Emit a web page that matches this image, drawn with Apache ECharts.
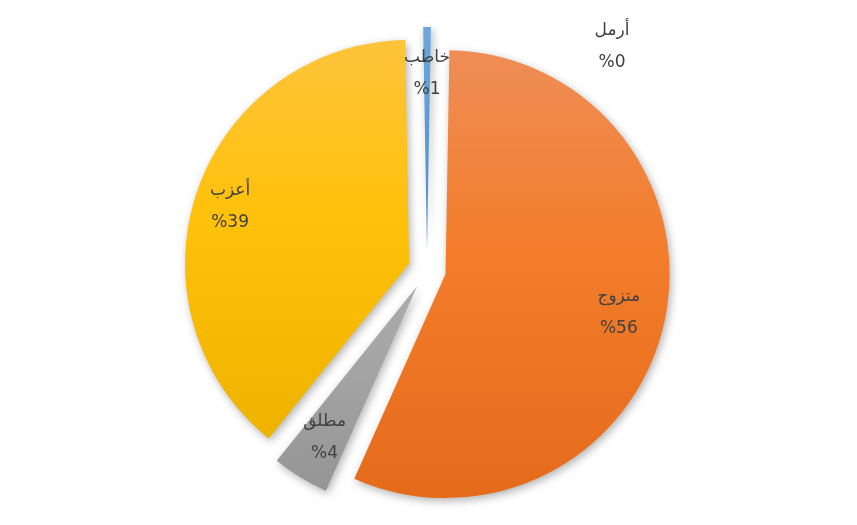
<!DOCTYPE html>
<html>
<head>
<meta charset="utf-8">
<title>pie</title>
<script src="https://cdn.jsdelivr.net/npm/echarts@6/dist/echarts.min.js"></script>
<style>
  html, body { margin: 0; padding: 0; background: #fff; }
  #main { width: 857px; height: 525px; }
</style>
</head>
<body>
<div id="main"></div>
<script>
// data (shares in %)
const names = ['متزوج', 'مطلق', 'أعزب', 'خاطب', 'أرمل'];
const values = [56.4, 4.1, 38.95, 0.55, 0];
// colour stops of each slice, top -> bottom
const colors = [
  ['#EF8D55', '#F37D2B', '#E56B1B'],
  ['#ABABAB', '#A3A3A3', '#959595'],
  ['#FEC43A', '#FFC10A', '#EEB300'],
  ['#6CA8DE', '#5B9BD5', '#4E8ECB'],
  ['#7F7F7F', '#7F7F7F', '#7F7F7F']
];

const labelFont = {
  fontFamily: 'DejaVu Sans',
  fontSize: 17,
  fontWeight: 'normal',
  lineHeight: 32,
  color: '#404040'
};

function grad(c) {
  return new echarts.graphic.LinearGradient(0, 0, 0, 1, [
    { offset: 0, color: c[0] },
    { offset: 0.45, color: c[1] },
    { offset: 1, color: c[2] }
  ]);
}

const pieData = names.map((n, i) => ({
  name: n, value: values[i], selected: true,
  itemStyle: { color: grad(colors[i]) }
}));
// second, invisible ring only carries the labels (puts them nearer the rim)
const labelData = names.map((n, i) => ({ name: n, value: values[i], selected: true }));
labelData[2].label = { padding: [0, 22, 0, 0] };
// the 0% slice has no room: its label goes in the title box, up right
labelData[4].label = { show: false };

const option = {
  animation: false,
  title: {
    text: names[4] + '\n%' + values[4],
    left: 607,
    top: 10,
    textAlign: 'center',
    textStyle: labelFont
  },
  series: [
    {
      type: 'pie',
      center: [427, 270],
      radius: 224,
      startAngle: 89,
      selectedMode: 'multiple',
      selectedOffset: 19,
      avoidLabelOverlap: false,
      label: { show: false },
      labelLine: { show: false },
      itemStyle: {
        shadowBlur: 8,
        shadowColor: 'rgba(0,0,0,0.3)',
        shadowOffsetX: 2,
        shadowOffsetY: 3
      },
      emphasis: { disabled: true },
      data: pieData
    },
    {
      type: 'pie',
      silent: true,
      center: [427, 270],
      radius: [125, 224],
      startAngle: 89,
      selectedMode: 'multiple',
      selectedOffset: 19,
      avoidLabelOverlap: false,
      itemStyle: { color: 'rgba(0,0,0,0)' },
      label: Object.assign({
        show: true,
        position: 'inside',
        formatter: p => p.name + '\n%' + Math.round(p.percent)
      }, labelFont),
      labelLine: { show: false },
      data: labelData
    }
  ]
};

const myChart = echarts.init(document.getElementById('main'));
myChart.setOption(option);
</script>
</body>
</html>
